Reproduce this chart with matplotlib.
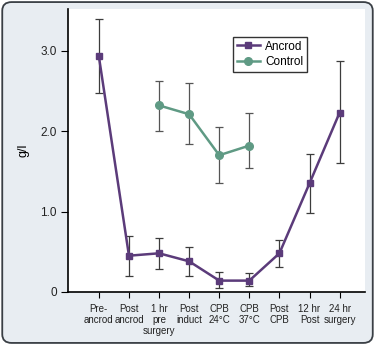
import matplotlib.pyplot as plt
from matplotlib.patches import FancyBboxPatch

plt.rcParams['font.family'] = ['Liberation Sans', 'DejaVu Sans']

labels = ['Pre-\nancrod', 'Post\nancrod', '1 hr\npre\nsurgery', 'Post\ninduct',
          'CPB\n24°C', 'CPB\n37°C', 'Post\nCPB', '12 hr\nPost', '24 hr\nsurgery']

ancrod = [2.93, 0.45, 0.48, 0.38, 0.14, 0.14, 0.48, 1.35, 2.23]
ancrod_hi = [3.40, 0.70, 0.67, 0.56, 0.25, 0.23, 0.65, 1.71, 2.87]
ancrod_lo = [2.47, 0.20, 0.29, 0.20, 0.05, 0.07, 0.31, 0.98, 1.60]

control_x = [2, 3, 4, 5]
control = [2.32, 2.21, 1.70, 1.82]
control_hi = [2.62, 2.60, 2.05, 2.22]
control_lo = [2.00, 1.84, 1.35, 1.54]

purple = '#5b3b7a'
green = '#5f9a84'

fig = plt.figure(figsize=(3.75, 3.45), dpi=100)
fig.patch.set_facecolor('white')
bg = FancyBboxPatch((0.006, 0.006), 0.988, 0.988, boxstyle='round,pad=0,rounding_size=0.025',
                    transform=fig.transFigure, facecolor='#e8edf2', edgecolor='#3a3f45',
                    linewidth=1.3, zorder=-10)
fig.patches.append(bg)

ax = fig.add_axes([0.181, 0.154, 0.792, 0.82])
ax.set_facecolor('white')

xs = list(range(len(ancrod)))
a_err = [[v - l for v, l in zip(ancrod, ancrod_lo)], [h - v for v, h in zip(ancrod, ancrod_hi)]]
c_err = [[v - l for v, l in zip(control, control_lo)], [h - v for v, h in zip(control, control_hi)]]

ax.errorbar(xs, ancrod, yerr=a_err, fmt='none', ecolor='#3c3c3c', elinewidth=0.9,
            capsize=3, capthick=0.9, zorder=2)
ax.errorbar(control_x, control, yerr=c_err, fmt='none', ecolor='#555555', elinewidth=0.9,
            capsize=3, capthick=0.9, zorder=2)
ax.plot(xs, ancrod, color=purple, lw=1.8, marker='s', ms=5, label='Ancrod', zorder=3)
ax.plot(control_x, control, color=green, lw=1.8, marker='o', ms=5.5, label='Control', zorder=3)

ax.set_xlim(-1.03, 8.84)
ax.set_ylim(0, 3.52)
ax.set_xticks(xs)
ax.set_xticklabels(labels, fontsize=7, linespacing=1.1, color='#222222')
ax.set_yticks([0, 1, 2, 3])
ax.set_yticklabels(['0', '1.0', '2.0', '3.0'], fontsize=8.5, color='#222222')
ax.tick_params(axis='y', length=5, width=0.8, pad=3)
ax.tick_params(axis='x', length=4, width=0.8, pad=5)
for s in ['top', 'right']:
    ax.spines[s].set_visible(False)
for s in ['left', 'bottom']:
    ax.spines[s].set_linewidth(1.2)
ax.set_ylabel('g/l', fontsize=9, labelpad=8)

leg = ax.legend(loc='upper left', bbox_to_anchor=(0.556, 0.901), borderaxespad=0,
                fontsize=8.5, frameon=True, fancybox=False, handlelength=2.0,
                handletextpad=0.4, borderpad=0.3, labelspacing=0.3)
leg.get_frame().set_edgecolor('black')
leg.get_frame().set_linewidth(1.0)

fig.savefig('out.png', dpi=100)
